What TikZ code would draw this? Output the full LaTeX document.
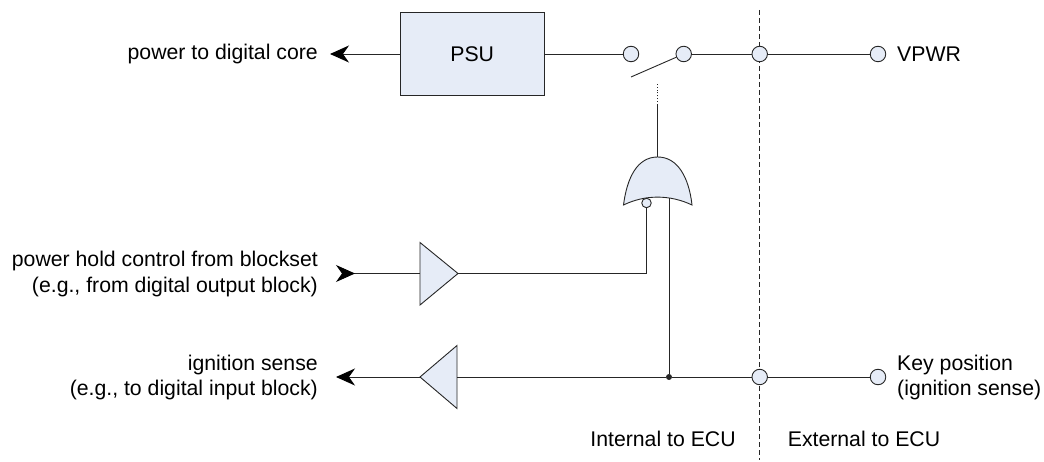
\documentclass[tikz,border=0pt]{standalone}
\usepackage{fontspec}
\setmainfont{Liberation Sans}
\usepackage{tikz}
\usetikzlibrary{arrows.meta}
\definecolor{boxfill}{RGB}{230,236,247}
\tikzset{
  wire/.style={draw=black!85, line width=0.9pt},
  part/.style={draw=black!85, line width=0.9pt, fill=boxfill},
  pin/.style={draw=black!85, line width=0.9pt, fill=boxfill, circle, minimum size=15.5pt, inner sep=0pt},
  lbl/.style={inner sep=0pt, font=\fontsize{21.25}{25.5}\selectfont},
  tip/.style={-{Stealth[length=19pt,width=17pt,inset=6pt,black]}}
}

\begin{document}
\begin{tikzpicture}[x=1pt,y=-1pt]
  \useasboundingbox (0, 0) rectangle (1044, 462);

  % the boundary comes first, pins sit over it
  \coordinate (bndtop) at (759.7, 10);
  \coordinate (bndbot) at (759.7, 460);
  \draw[wire, dash pattern=on 5pt off 3pt] (bndtop) -- (bndbot);

  \node[part, minimum width=143.5pt, minimum height=83pt, inner sep=0pt, font=\fontsize{21.25}{25}\selectfont] at (472.2, 54) (psu) {PSU};

  \node[pin] at (631, 54) (swa) {};
  \node[pin] at (683.7, 54) (swb) {};
  \node[pin] at (759.7, 54) (vbnd) {};
  \node[pin] at (878, 54) (vpwr) {};
  \node[pin] at (759.7, 377) (kbnd) {};
  \node[pin] at (878, 377) (key) {};

  % labels
  \node[lbl, anchor=east] at (318, 54) (lcore) {power to digital core};
  \node[lbl, anchor=west] at (897, 54) (lvpwr) {VPWR};
  \node[lbl, anchor=east, align=right] at (318, 274) (lhold) {power hold control from blockset\\(e.g., from digital output block)};
  \node[lbl, anchor=east, align=right] at (318, 377.5) (lsense) {ignition sense\\(e.g., to digital input block)};
  \node[lbl, anchor=west, align=left] at (897, 377.5) (lkey) {Key position\\(ignition sense)};
  \node[lbl] at (663, 439) (lint) {Internal to ECU};
  \node[lbl] at (864, 439) (lext) {External to ECU};

  % gate and buffers
  \draw[part] (623.5, 205) .. controls (627, 178) and (637, 157) .. (657.7, 157)
    .. controls (678, 157) and (689, 178) .. (692, 205)
    .. controls (670, 194.5) and (645, 194.5) .. cycle;
  \coordinate (gtop) at (657.7, 157);
  \coordinate (gina) at (646.5, 203);
  \coordinate (ginb) at (669, 198);
  \node[pin, minimum size=9.5pt] at (gina) (bubble) {};

  \draw[part] (420, 242.5) -- (458, 273.5) -- (420, 305) -- cycle;
  \draw[part] (457, 345.5) -- (420, 377) -- (457, 408.5) -- cycle;
  \coordinate (bufain) at (420, 273.5);
  \coordinate (bufaout) at (458, 273.5);
  \coordinate (bufbin) at (457, 377);
  \coordinate (bufbout) at (420, 377);

  \node[circle, fill=black!85, minimum size=6pt, inner sep=0pt] at (669, 377) (jct) {};

  % free ends
  \coordinate (endcore) at (330, 54);
  \coordinate (endhold) at (336, 273.5);
  \coordinate (endsense) at (336, 377);
  \coordinate (bladeend) at (631, 77);
  \coordinate (ctrlend) at (657.7, 105);
  \coordinate (ctrlfade) at (657.7, 84);

  % connexions
  \draw[wire, tip] (psu) -- (endcore);
  \draw[wire] (psu) -- (swa);
  \draw[wire] (bladeend) -- (swb);
  \draw[wire] (swb) -- (vbnd);
  \draw[wire] (vbnd) -- (vpwr);
  \draw[wire] (gtop) -- (ctrlend);
  \draw[wire, dotted, line width=0.6pt] (ctrlend) -- (ctrlfade);
  \draw[wire] (bubble) -- (gina |- bufaout) -- (bufaout);
  \draw[wire] (ginb) -- (jct);
  \draw[wire] (bufbin) -- (jct);
  \draw[wire] (jct) -- (kbnd);
  \draw[wire] (kbnd) -- (key);
  \draw[wire, tip] (bufbout) -- (endsense);
  \draw[wire, {Stealth[length=19pt,width=17pt,inset=6pt,reversed,black]}-] (endhold) -- (bufain);
\end{tikzpicture}
\end{document}
